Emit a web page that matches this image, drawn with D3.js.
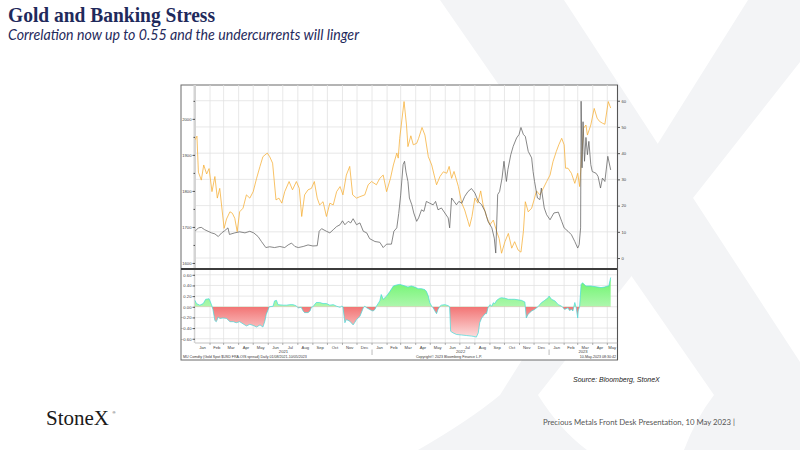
<!DOCTYPE html>
<html>
<head>
<meta charset="utf-8">
<script src="https://cdn.jsdelivr.net/npm/d3@7"></script>
<style>
  body { margin: 0; background: #fff; }
  svg { display: block; }
</style>
</head>
<body>
<svg id="chart" width="800" height="450"></svg>
<script>
// Gold spot, USD/oz (left axis)
const goldSpot = [
  ["2021-01-01",1942],["2021-01-05",1952],["2021-01-08",1852],["2021-01-14",1830],["2021-01-19",1872],["2021-01-25",1847],
  ["2021-01-30",1862],["2021-02-05",1798],["2021-02-11",1840],["2021-02-16",1780],["2021-02-21",1807],["2021-02-27",1733],
  ["2021-03-02",1696],["2021-03-07",1722],["2021-03-14",1742],["2021-03-19",1738],["2021-03-24",1724],["2021-03-29",1687],
  ["2021-04-03",1742],["2021-04-10",1752],["2021-04-17",1789],["2021-04-24",1780],["2021-05-01",1798],["2021-05-08",1835],
  ["2021-05-15",1868],["2021-05-21",1895],["2021-05-30",1905],["2021-06-04",1895],["2021-06-10",1877],["2021-06-17",1775],
  ["2021-06-23",1780],["2021-06-29",1766],["2021-07-05",1798],["2021-07-14",1826],["2021-07-21",1803],["2021-07-29",1826],
  ["2021-08-04",1807],["2021-08-09",1729],["2021-08-15",1789],["2021-08-22",1803],["2021-08-29",1807],["2021-09-04",1826],
  ["2021-09-10",1780],["2021-09-15",1761],["2021-09-22",1770],["2021-09-29",1729],["2021-10-06",1766],["2021-10-13",1761],
  ["2021-10-20",1798],["2021-10-27",1812],["2021-11-02",1789],["2021-11-09",1844],["2021-11-16",1868],["2021-11-22",1789],
  ["2021-11-30",1780],["2021-12-07",1784],["2021-12-17",1789],["2021-12-24",1817],["2021-12-31",1826],["2022-01-10",1817],
  ["2022-01-17",1835],["2022-01-24",1844],["2022-01-31",1798],["2022-02-08",1835],["2022-02-14",1872],["2022-02-21",1905],
  ["2022-02-24",1891],["2022-02-27",1946],["2022-03-08",2048],["2022-03-13",1983],["2022-03-16",1923],["2022-03-22",1953],
  ["2022-03-27",1928],["2022-04-03",1932],["2022-04-07",1946],["2022-04-14",1976],["2022-04-20",1955],["2022-04-27",1895],
  ["2022-05-04",1872],["2022-05-09",1844],["2022-05-14",1817],["2022-05-21",1840],["2022-05-28",1853],["2022-06-04",1849],
  ["2022-06-09",1868],["2022-06-14",1835],["2022-06-19",1854],["2022-06-28",1812],["2022-07-05",1766],["2022-07-11",1747],
  ["2022-07-18",1715],["2022-07-21",1701],["2022-07-26",1729],["2022-08-01",1780],["2022-08-07",1766],["2022-08-13",1800],
  ["2022-08-18",1761],["2022-08-25",1729],["2022-09-01",1706],["2022-09-08",1719],["2022-09-15",1687],["2022-09-20",1668],
  ["2022-09-25",1627],["2022-10-02",1659],["2022-10-09",1682],["2022-10-16",1641],["2022-10-22",1659],["2022-10-29",1636],
  ["2022-11-04",1630],["2022-11-09",1687],["2022-11-13",1770],["2022-11-19",1742],["2022-11-26",1752],["2022-12-01",1775],
  ["2022-12-06",1800],["2022-12-13",1789],["2022-12-20",1807],["2022-12-27",1826],["2023-01-03",1844],["2023-01-09",1881],
  ["2023-01-16",1910],["2023-01-21",1928],["2023-01-27",1946],["2023-02-01",1928],["2023-02-04",1863],["2023-02-09",1863],
  ["2023-02-16",1849],["2023-02-23",1821],["2023-03-01",1849],["2023-03-05",1812],["2023-03-10",1910],["2023-03-13",1974],
  ["2023-03-18",1983],["2023-03-21",1955],["2023-03-28",1983],["2023-04-04",2029],["2023-04-10",2002],["2023-04-15",1993],
  ["2023-04-21",1988],["2023-04-26",1985],["2023-05-03",2048],["2023-05-08",2030]
];

// USD FRA-OIS spread, bp (right axis)
const fraOis = [
  ["2021-01-01",10.2],["2021-01-08",11.5],["2021-01-14",11.7],["2021-01-21",10.8],["2021-01-28",10.2],["2021-02-04",9.6],
  ["2021-02-11",9.2],["2021-02-18",8.2],["2021-02-25",9.6],["2021-03-03",10.4],["2021-03-10",11.5],["2021-03-13",9.0],
  ["2021-03-24",9.6],["2021-04-03",10.0],["2021-04-14",9.6],["2021-04-24",10.2],["2021-05-02",9.6],["2021-05-11",8.2],
  ["2021-05-18",6.3],["2021-05-27",4.0],["2021-06-04",4.3],["2021-06-14",4.0],["2021-06-25",4.4],["2021-07-05",4.0],
  ["2021-07-12",5.0],["2021-07-19",5.7],["2021-07-26",4.4],["2021-08-02",4.0],["2021-08-12",4.4],["2021-08-22",5.0],
  ["2021-09-01",4.6],["2021-09-10",4.7],["2021-09-14",10.2],["2021-09-19",11.2],["2021-09-29",10.2],["2021-10-06",9.6],
  ["2021-10-13",10.8],["2021-10-20",12.0],["2021-10-27",12.7],["2021-11-01",14.2],["2021-11-06",12.7],["2021-11-13",14.0],
  ["2021-11-18",13.4],["2021-11-23",15.0],["2021-11-30",12.7],["2021-12-07",13.4],["2021-12-14",10.2],["2021-12-21",9.6],
  ["2021-12-27",7.4],["2022-01-07",6.3],["2022-01-17",6.0],["2022-01-24",4.0],["2022-01-31",5.3],["2022-02-10",5.3],
  ["2022-02-15",10.2],["2022-02-21",11.5],["2022-02-25",17],["2022-03-01",24],["2022-03-06",35.6],["2022-03-09",36.9],
  ["2022-03-12",32.8],["2022-03-16",29.2],["2022-03-19",22.9],["2022-03-24",20.3],["2022-03-28",17.2],["2022-04-03",14],
  ["2022-04-07",15.3],["2022-04-13",18.4],["2022-04-18",17.8],["2022-04-23",21.6],["2022-04-30",20.9],["2022-05-07",20.3],
  ["2022-05-12",21.6],["2022-05-17",18.4],["2022-05-24",19.1],["2022-05-31",17.2],["2022-06-07",15.3],["2022-06-10",11.5],
  ["2022-06-14",22.9],["2022-06-19",21.6],["2022-06-24",20.3],["2022-06-29",21.6],["2022-07-05",20.9],["2022-07-11",23.5],
  ["2022-07-18",25.4],["2022-07-25",26.5],["2022-08-01",24.8],["2022-08-08",21.6],["2022-08-15",20.3],["2022-08-22",17.8],
  ["2022-08-28",14],["2022-09-05",11.5],["2022-09-10",7.6],["2022-09-13",1.9],["2022-09-17",24.2],["2022-09-21",25.4],
  ["2022-09-26",30.5],["2022-09-30",36.9],["2022-10-05",29.2],["2022-10-08",33.7],["2022-10-14",39.4],["2022-10-19",42.6],
  ["2022-10-26",45.8],["2022-10-31",47.1],["2022-11-04",49.8],["2022-11-09",47.1],["2022-11-13",46.4],["2022-11-19",40.7],
  ["2022-11-26",38.2],["2022-11-29",33],["2022-12-02",29.2],["2022-12-08",22.9],["2022-12-13",22.3],["2022-12-16",26.7],
  ["2022-12-22",19.1],["2022-12-27",16.5],["2023-01-03",14.6],["2023-01-11",17.2],["2023-01-20",17.5],["2023-01-27",14],
  ["2023-02-01",11.5],["2023-02-09",10.2],["2023-02-16",8.9],["2023-02-23",6.3],["2023-03-01",3.8],["2023-03-04",5.1],
  ["2023-03-07",11.5],["2023-03-08",59.8],["2023-03-10",34.4],["2023-03-12",52],["2023-03-15",36.9],["2023-03-18",46],
  ["2023-03-21",39.4],["2023-03-24",44.5],["2023-03-28",35.6],["2023-03-31",33],["2023-04-08",32.3],["2023-04-12",31.1],
  ["2023-04-17",26.7],["2023-04-21",30.5],["2023-04-26",29.2],["2023-05-02",38.8],["2023-05-08",33.6]
];

// rolling correlation gold vs FRA-OIS (lower panel)
const correlation = [
  ["2021-01-01",0.12],["2021-01-04",0.06],["2021-01-11",0.03],["2021-01-18",0.06],["2021-01-23",0.14],["2021-01-30",0.15],
  ["2021-02-04",0.04],["2021-02-07",-0.05],["2021-02-11",-0.26],["2021-02-14",-0.28],["2021-02-18",-0.19],["2021-02-21",-0.22],
  ["2021-02-28",-0.21],["2021-03-07",-0.22],["2021-03-14",-0.28],["2021-03-21",-0.28],["2021-03-27",-0.30],["2021-04-03",-0.28],
  ["2021-04-10",-0.32],["2021-04-17",-0.36],["2021-04-24",-0.33],["2021-05-01",-0.35],["2021-05-08",-0.38],["2021-05-15",-0.34],
  ["2021-05-21",-0.38],["2021-05-25",-0.27],["2021-05-28",-0.14],["2021-06-01",-0.05],["2021-06-03",0],["2021-06-11",0.01],
  ["2021-06-14",0.11],["2021-06-18",0.12],["2021-06-21",0.04],["2021-07-02",0.03],["2021-07-09",0.03],["2021-07-15",0.04],
  ["2021-07-22",0.04],["2021-07-28",0.02],["2021-08-02",-0.02],["2021-08-08",-0.01],["2021-08-12",-0.08],["2021-08-15",-0.11],
  ["2021-08-22",-0.11],["2021-08-26",-0.08],["2021-08-29",-0.01],["2021-09-01",0],["2021-09-08",0.08],["2021-09-15",0.08],
  ["2021-09-22",0.06],["2021-09-29",0.06],["2021-10-06",0.03],["2021-10-13",0.04],["2021-10-20",0.01],["2021-10-27",-0.01],
  ["2021-10-30",0.01],["2021-11-02",0],["2021-11-06",-0.30],["2021-11-09",-0.24],["2021-11-16",-0.27],["2021-11-23",-0.34],
  ["2021-11-26",-0.30],["2021-11-30",-0.24],["2021-12-07",-0.18],["2021-12-14",-0.02],["2021-12-17",0.01],["2021-12-21",-0.02],
  ["2021-12-27",-0.05],["2021-12-31",-0.07],["2022-01-03",-0.08],["2022-01-07",-0.05],["2022-01-10",0.01],["2022-01-17",0.11],
  ["2022-01-20",0.23],["2022-01-24",0.14],["2022-01-31",0.20],["2022-02-07",0.29],["2022-02-14",0.39],["2022-02-21",0.41],
  ["2022-02-27",0.42],["2022-03-03",0.41],["2022-03-10",0.39],["2022-03-16",0.37],["2022-03-23",0.39],["2022-03-30",0.37],
  ["2022-04-06",0.34],["2022-04-13",0.34],["2022-04-20",0.32],["2022-04-23",0.29],["2022-04-27",0.20],["2022-04-30",0.075],
  ["2022-05-04",0.01],["2022-05-07",-0.02],["2022-05-10",-0.07],["2022-05-14",-0.13],["2022-05-17",-0.05],["2022-05-21",0.01],
  ["2022-05-24",0.03],["2022-05-31",0.04],["2022-06-07",0.02],["2022-06-10",0],["2022-06-12",-0.46],["2022-06-17",-0.49],
  ["2022-06-24",-0.52],["2022-07-05",-0.53],["2022-07-15",-0.54],["2022-07-25",-0.55],["2022-08-01",-0.56],["2022-08-04",-0.57],
  ["2022-08-08",-0.49],["2022-08-11",-0.30],["2022-08-15",-0.21],["2022-08-18",-0.18],["2022-08-22",-0.13],["2022-08-25",-0.13],
  ["2022-08-28",-0.02],["2022-09-01",0.04],["2022-09-05",0.01],["2022-09-08",0.075],["2022-09-11",0.06],["2022-09-15",0.12],
  ["2022-09-21",0.16],["2022-09-25",0.17],["2022-10-02",0.16],["2022-10-09",0.14],["2022-10-16",0.14],["2022-10-22",0.14],
  ["2022-10-29",0.13],["2022-11-05",0.12],["2022-11-12",0.09],["2022-11-13",0],["2022-11-15",-0.21],["2022-11-19",-0.14],
  ["2022-11-22",-0.11],["2022-11-26",-0.08],["2022-12-02",-0.05],["2022-12-09",0],["2022-12-16",0.075],["2022-12-23",0.12],
  ["2022-12-30",0.17],["2023-01-01",0.20],["2023-01-06",0.14],["2023-01-13",0.11],["2023-01-20",0.04],["2023-01-27",0.01],
  ["2023-01-30",-0.02],["2023-02-02",-0.05],["2023-02-09",-0.02],["2023-02-12",-0.07],["2023-02-16",-0.05],["2023-02-19",-0.08],
  ["2023-02-23",0.08],["2023-02-26",-0.02],["2023-03-01",-0.21],["2023-03-02",-0.08],["2023-03-05",0.01],["2023-03-08",0.42],
  ["2023-03-11",0.45],["2023-03-18",0.39],["2023-03-28",0.39],["2023-04-08",0.375],["2023-04-18",0.36],["2023-04-25",0.37],
  ["2023-05-02",0.39],["2023-05-04",0.39],["2023-05-08",0.55]
];

const goldTicks = [1600, 1700, 1800, 1900, 2000];
const goldMinorTicks = [1650, 1750, 1850, 1950, 2050];
const spreadTicks = [0, 10, 20, 30, 40, 50, 60];
const corrTicks = [-0.6, -0.4, -0.2, 0, 0.2, 0.4, 0.6];
const monthNames = ["Jan","Feb","Mar","Apr","May","Jun","Jul","Aug","Sep","Oct","Nov","Dec"];
const yearLabels = ["2021", "2022", "2023"];

const parse = d3.utcParse("%Y-%m-%d");
const svg = d3.select("#chart");
const axisFont = "'Liberation Sans', Arial, sans-serif";

// StoneX watermark
const mark = svg.append("g").attr("fill", "#f3f4f6");
mark.append("path").attr("d", "M440,0 L564,0 L800,362 L800,450 L684,450 Q696,418 714,395 Z");
mark.append("path").attr("d", "M748,0 L800,0 L800,62 L538,395 Q560,430 587,450 L418,450 Q470,420 500,395 Z");

// titles
svg.append("text").attr("x", 8).attr("y", 22)
  .attr("font-family", "'Liberation Serif', 'DejaVu Serif', serif").attr("font-weight", "bold")
  .attr("font-size", 21).attr("textLength", 207).attr("lengthAdjust", "spacingAndGlyphs")
  .attr("fill", "#1f2a5c").text("Gold and Banking Stress");
svg.append("text").attr("x", 8).attr("y", 40)
  .attr("font-family", "Lato, 'Open Sans', sans-serif").attr("font-style", "italic")
  .attr("font-size", 15).attr("textLength", 351).attr("lengthAdjust", "spacingAndGlyphs")
  .attr("fill", "#1f2a5c").text("Correlation now up to 0.55 and the undercurrents will linger");

// scales
const start = parse("2021-01-01"), end = parse("2023-05-21");
const x = d3.scaleUtc().domain([start, end]).range([195, 617]);
const yGold = d3.scaleLinear().domain([1586, 2094]).range([268, 85]);
const ySpread = d3.scaleLinear().domain([-3.8, 66]).range([268, 85]);
const yCorr = d3.scaleLinear().domain([-0.68, 0.69]).range([343, 270]);

// chart frame
svg.append("rect").attr("x", 181).attr("y", 85).attr("width", 436.5).attr("height", 275)
  .attr("fill", "#fff").attr("stroke", "#6b6b6b").attr("stroke-width", 1);

const months = d3.utcMonth.range(start, end);

// gridlines
const grid = svg.append("g").attr("stroke", "#e2e2e2").attr("stroke-width", 0.8);
grid.selectAll(".vt").data(months.slice(1)).join("line")
  .attr("x1", d => x(d)).attr("x2", d => x(d)).attr("y1", 85).attr("y2", 268);
grid.selectAll(".vb").data(months.slice(1)).join("line")
  .attr("class", "vb")
  .attr("x1", d => x(d)).attr("x2", d => x(d)).attr("y1", 270).attr("y2", 343);
grid.selectAll(".ht").data(spreadTicks).join("line")
  .attr("class", "ht")
  .attr("x1", 195).attr("x2", 617).attr("y1", d => ySpread(d)).attr("y2", d => ySpread(d));
grid.selectAll(".hb").data(corrTicks).join("line")
  .attr("class", "hb")
  .attr("x1", 195).attr("x2", 617).attr("y1", d => yCorr(d)).attr("y2", d => yCorr(d));

// shaded first column
svg.append("rect").attr("x", 193.5).attr("y", 85).attr("width", 2.5).attr("height", 183).attr("fill", "#d4d4d4");
svg.append("rect").attr("x", 193.8).attr("y", 270).attr("width", 1.5).attr("height", 73).attr("fill", "#d4d4d4");

// axes helper
function styleAxis(g) {
  g.select(".domain").remove();
  g.selectAll(".tick line").attr("stroke", "#111").attr("stroke-width", 0.7);
  g.selectAll(".tick text").attr("font-family", axisFont).attr("font-size", 4.2).attr("fill", "#444");
}

svg.append("g").attr("transform", "translate(195,0)")
  .call(d3.axisLeft(yGold).tickValues(goldTicks).tickSize(2.5).tickPadding(1).tickFormat(d3.format("d")))
  .call(styleAxis);
svg.append("g").attr("transform", "translate(195,0)")
  .call(d3.axisLeft(yGold).tickValues(goldMinorTicks).tickSize(1.5).tickFormat(""))
  .call(styleAxis);
svg.append("g").attr("transform", "translate(617.5,0)")
  .call(d3.axisRight(ySpread).tickValues(spreadTicks).tickSize(2.5).tickPadding(1.5).tickFormat(d3.format("d")))
  .call(styleAxis);
svg.append("g").attr("transform", "translate(195,0)")
  .call(d3.axisLeft(yCorr).tickValues(corrTicks).tickSize(2.5).tickPadding(1).tickFormat(d3.format(".2f")))
  .call(styleAxis);

// top panel series
const clipTop = svg.append("clipPath").attr("id", "clipTop");
clipTop.append("rect").attr("x", 195).attr("y", 85).attr("width", 422).attr("height", 183);

const goldLine = d3.line().x(d => x(parse(d[0]))).y(d => yGold(d[1]));
const spreadLine = d3.line().x(d => x(parse(d[0]))).y(d => ySpread(d[1]));

svg.append("path").datum(goldSpot).attr("clip-path", "url(#clipTop)")
  .attr("d", goldLine).attr("fill", "none").attr("stroke", "#f6ad33").attr("stroke-width", 0.75)
  .attr("stroke-linejoin", "round");
svg.append("path").datum(fraOis).attr("clip-path", "url(#clipTop)")
  .attr("d", spreadLine).attr("fill", "none").attr("stroke", "#606060").attr("stroke-width", 0.75)
  .attr("stroke-linejoin", "round");

// lower panel: correlation area, green above zero, red below
const defs = svg.append("defs");
const gGreen = defs.append("linearGradient").attr("id", "gGreen").attr("gradientUnits", "userSpaceOnUse")
  .attr("x1", 0).attr("x2", 0).attr("y1", yCorr(0.6)).attr("y2", yCorr(0));
gGreen.append("stop").attr("offset", 0).attr("stop-color", "#62f462");
gGreen.append("stop").attr("offset", 1).attr("stop-color", "#aef7ae");
const gRed = defs.append("linearGradient").attr("id", "gRed").attr("gradientUnits", "userSpaceOnUse")
  .attr("x1", 0).attr("x2", 0).attr("y1", yCorr(0)).attr("y2", yCorr(-0.6));
gRed.append("stop").attr("offset", 0).attr("stop-color", "#f27474");
gRed.append("stop").attr("offset", 1).attr("stop-color", "#fde3e3");

defs.append("clipPath").attr("id", "clipPos").append("rect")
  .attr("x", 195).attr("y", 270).attr("width", 422).attr("height", yCorr(0) - 270);
defs.append("clipPath").attr("id", "clipNeg").append("rect")
  .attr("x", 195).attr("y", yCorr(0)).attr("width", 422).attr("height", 343 - yCorr(0));

const corrArea = d3.area().x(d => x(parse(d[0]))).y0(yCorr(0)).y1(d => yCorr(d[1]));
svg.append("path").datum(correlation).attr("clip-path", "url(#clipPos)")
  .attr("d", corrArea).attr("fill", "url(#gGreen)");
svg.append("path").datum(correlation).attr("clip-path", "url(#clipNeg)")
  .attr("d", corrArea).attr("fill", "url(#gRed)");
svg.append("path").datum(correlation)
  .attr("d", d3.line().x(d => x(parse(d[0]))).y(d => yCorr(d[1])))
  .attr("fill", "none").attr("stroke", "#44dada").attr("stroke-width", 0.7);

// panel separator and right border
svg.append("line").attr("x1", 181).attr("x2", 617.5).attr("y1", 269).attr("y2", 269)
  .attr("stroke", "#3c3c3c").attr("stroke-width", 2);
svg.append("line").attr("x1", 617.5).attr("x2", 617.5).attr("y1", 85).attr("y2", 360)
  .attr("stroke", "#555").attr("stroke-width", 1.1);
svg.append("line").attr("x1", 195).attr("x2", 617.5).attr("y1", 343).attr("y2", 343)
  .attr("stroke", "#9a9a9a").attr("stroke-width", 0.6);

// month labels and ticks
const monthAxis = svg.append("g").attr("font-family", axisFont).attr("font-size", 4.2).attr("fill", "#444");
monthAxis.selectAll("text").data(months).join("text")
  .attr("x", d => {
    const next = d3.utcMonth.offset(d, 1);
    return (x(d) + x(next < end ? next : end)) / 2;
  })
  .attr("y", 348.5).attr("text-anchor", "middle")
  .text(d => monthNames[d.getUTCMonth()]);
svg.append("g").selectAll("line").data(months.slice(1)).join("line")
  .attr("x1", d => x(d)).attr("x2", d => x(d)).attr("y1", 343).attr("y2", 345)
  .attr("stroke", "#666").attr("stroke-width", 0.5);

// year labels and separators
const yearStarts = yearLabels.map(y => parse(y + "-01-01"));
svg.append("g").selectAll("text").data(yearLabels).join("text")
  .attr("x", (d, i) => {
    const a = yearStarts[i];
    const b = i + 1 < yearStarts.length ? yearStarts[i + 1] : end;
    return (x(a) + x(b)) / 2;
  })
  .attr("y", 353).attr("text-anchor", "middle")
  .attr("font-family", axisFont).attr("font-size", 4.2).attr("fill", "#444")
  .text(d => d);
svg.append("g").selectAll("line").data(yearStarts.slice(1)).join("line")
  .attr("x1", d => x(d)).attr("x2", d => x(d)).attr("y1", 349.5).attr("y2", 355)
  .attr("stroke", "#777").attr("stroke-width", 0.5);

// bloomberg footer inside frame
const foot = svg.append("g").attr("font-family", axisFont).attr("font-size", 3.6).attr("fill", "#333");
foot.append("text").attr("x", 183).attr("y", 358)
  .text("MU Comdty (Gold Spot  $USD FRA-OIS spread)  Daily 01/08/2021-10/05/2023");
foot.append("text").attr("x", 449).attr("y", 358).attr("text-anchor", "middle")
  .text("Copyright\u00a9 2023 Bloomberg Finance L.P.");
foot.append("text").attr("x", 616).attr("y", 358).attr("text-anchor", "end")
  .text("10-May-2023 08:30:42");

// source
svg.append("text").attr("x", 573).attr("y", 382)
  .attr("font-family", axisFont).attr("font-style", "italic").attr("font-size", 7).attr("fill", "#222")
  .text("Source:  Bloomberg,  StoneX");

// slide footer
svg.append("text").attr("x", 46).attr("y", 425)
  .attr("font-family", "'Liberation Serif', serif").attr("font-size", 21).attr("fill", "#1a1a1a")
  .text("StoneX");
svg.append("text").attr("x", 112.5).attr("y", 414)
  .attr("font-family", axisFont).attr("font-size", 4).attr("fill", "#1a1a1a").text("\u00ae");
svg.append("text").attr("x", 543).attr("y", 425)
  .attr("font-family", "Lato, 'Open Sans', sans-serif").attr("font-size", 8).attr("fill", "#555")
  .attr("textLength", 192).attr("lengthAdjust", "spacingAndGlyphs")
  .text("Precious Metals Front Desk Presentation, 10 May 2023 |");
</script>
</body>
</html>
